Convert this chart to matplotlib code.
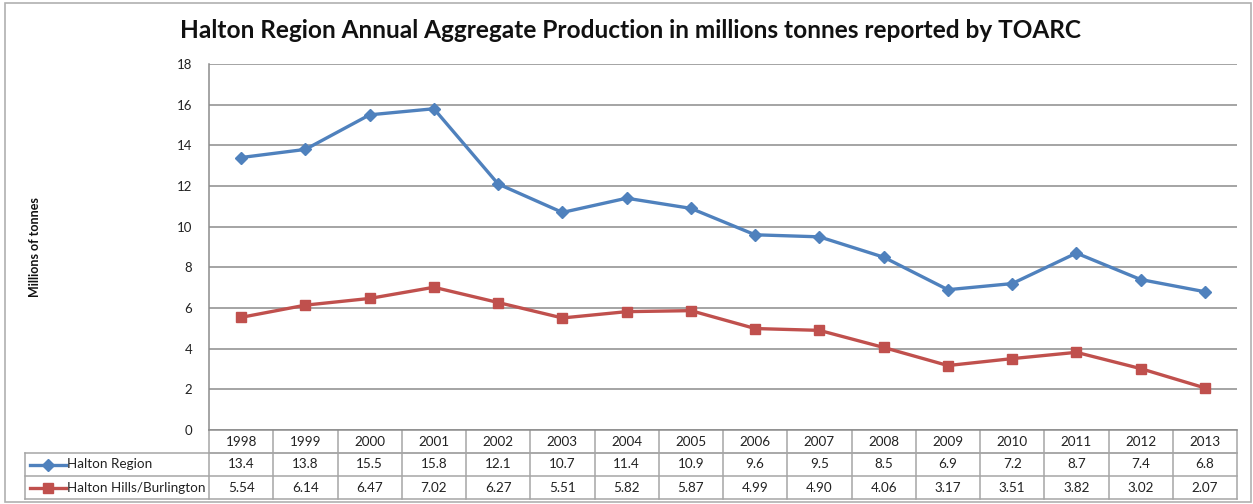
import matplotlib.pyplot as plt
from matplotlib.patches import Rectangle
from matplotlib.lines import Line2D

plt.rcParams['font.family'] = ['Lato', 'DejaVu Sans']

years = ['1998', '1999', '2000', '2001', '2002', '2003', '2004', '2005',
         '2006', '2007', '2008', '2009', '2010', '2011', '2012', '2013']
halton_region = [13.4, 13.8, 15.5, 15.8, 12.1, 10.7, 11.4, 10.9,
                 9.6, 9.5, 8.5, 6.9, 7.2, 8.7, 7.4, 6.8]
halton_hills = [5.54, 6.14, 6.47, 7.02, 6.27, 5.51, 5.82, 5.87,
                4.99, 4.90, 4.06, 3.17, 3.51, 3.82, 3.02, 2.07]
region_labels = ['13.4', '13.8', '15.5', '15.8', '12.1', '10.7', '11.4', '10.9',
                 '9.6', '9.5', '8.5', '6.9', '7.2', '8.7', '7.4', '6.8']
hills_labels = ['5.54', '6.14', '6.47', '7.02', '6.27', '5.51', '5.82', '5.87',
                '4.99', '4.90', '4.06', '3.17', '3.51', '3.82', '3.02', '2.07']

W, H = 1253, 504
fig = plt.figure(figsize=(W / 100, H / 100), dpi=100)

# outer chart frame
fig.patches.append(Rectangle((5 / W, 2 / H), 1246 / W, 499 / H, transform=fig.transFigure,
                             fill=False, edgecolor='#b0b0b0', linewidth=1.2))

left, right, top, bottom = 209, 1237, 64, 430
ax = fig.add_axes([left / W, 1 - bottom / H, (right - left) / W, (bottom - top) / H])

series = [
    ('Halton Region', halton_region, region_labels, '#4F81BD', 'D', 6),
    ('Halton Hills/Burlington', halton_hills, hills_labels, '#C0504D', 's', 7.5),
]
x = list(range(len(years)))
for name, vals, _, color, marker, ms in series:
    ax.plot(x, vals, color=color, linewidth=2.4, marker=marker, markersize=ms,
            markerfacecolor=color, markeredgecolor=color, zorder=3)

ax.set_xlim(-0.5, len(years) - 0.5)
ax.set_ylim(0, 18)
ax.set_yticks(range(0, 19, 2))
ax.set_xticks([])
ax.grid(axis='y', color='#8c8c8c', linewidth=1.1)
ax.set_axisbelow(True)
for s in ['top', 'right']:
    ax.spines[s].set_visible(False)
ax.spines['left'].set_color('#8c8c8c')
ax.spines['bottom'].set_color('#8c8c8c')
ax.spines['left'].set_linewidth(1.1)
ax.spines['bottom'].set_linewidth(1.1)
ax.tick_params(axis='y', length=0, pad=12, labelsize=9.5, labelcolor='#222222')

fig.text(630 / W, 1 - 31 / H, 'Halton Region Annual Aggregate Production in millions tonnes reported by TOARC',
         ha='center', va='center', fontsize=17.6, fontweight='bold', color='#111111')
fig.text(35 / W, 1 - 247 / H, 'Millions of tonnes', rotation=90, ha='center', va='center',
         fontsize=9, fontweight='bold', color='#111111')

# data table under the axis
ph = bottom - top
row_h = 23 / ph
n = len(years)
leg_left = (25 - left) / (right - left)
tcol = '#a6a6a6'
tsize = 9.7


def hline(x0, x1, y):
    ax.add_line(Line2D([x0, x1], [y, y], transform=ax.transAxes, color=tcol,
                       linewidth=1.1, clip_on=False))


def vline(xp, y0, y1):
    ax.add_line(Line2D([xp, xp], [y0, y1], transform=ax.transAxes, color=tcol,
                       linewidth=1.1, clip_on=False))


hline(0, 1, -row_h)
hline(leg_left, 1, -row_h)
hline(leg_left, 1, -2 * row_h)
hline(leg_left, 1, -3 * row_h)
vline(leg_left, -row_h, -3 * row_h)
for i in range(n + 1):
    vline(i / n, 0, -3 * row_h)

for i, yr in enumerate(years):
    cx = (i + 0.5) / n
    ax.text(cx, -0.5 * row_h, yr, transform=ax.transAxes, ha='center', va='center',
            fontsize=tsize, color='#222222')
for r, (name, vals, labels, color, marker, ms) in enumerate(series):
    cy = -(1.5 + r) * row_h
    for i, lab in enumerate(labels):
        ax.text((i + 0.5) / n, cy, lab, transform=ax.transAxes, ha='center', va='center',
                fontsize=tsize, color='#222222')
    kx0 = (30 - left) / (right - left)
    kx1 = (66 - left) / (right - left)
    ax.add_line(Line2D([kx0, kx1], [cy, cy], transform=ax.transAxes, color=color,
                       linewidth=2.4, clip_on=False))
    ax.add_line(Line2D([(kx0 + kx1) / 2], [cy], transform=ax.transAxes, color=color,
                       marker=marker, markersize=ms, clip_on=False))
    ax.text((67 - left) / (right - left), cy, name, transform=ax.transAxes,
            ha='left', va='center', fontsize=tsize, color='#222222')

fig.savefig('out.png', dpi=100)
